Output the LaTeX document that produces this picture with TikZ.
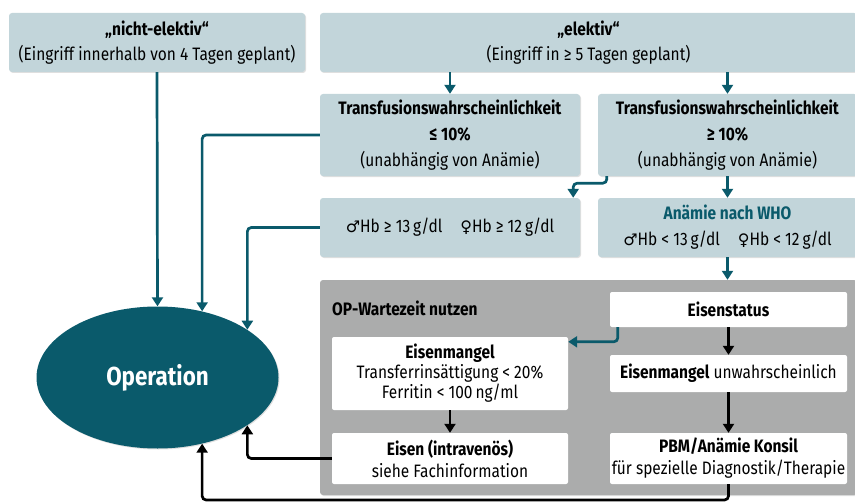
\documentclass[tikz,border=0pt]{standalone}
\usepackage{fontspec}
\setmainfont{Fira Sans}[FakeStretch=0.86]
\newfontfamily\symfont{DejaVu Sans}
\usetikzlibrary{arrows.meta, shapes.geometric, shadows, positioning, calc}
\definecolor{boxblue}{HTML}{C2D5DA}
\definecolor{petrol}{HTML}{0A5A6B}
\definecolor{waitgray}{HTML}{ABACAC}
\newcommand{\sexm}{{\symfont\fontsize{16}{20}\selectfont ♂}}
\newcommand{\sexf}{{\symfont\fontsize{16}{20}\selectfont ♀}}

\begin{document}
\begin{tikzpicture}[x=1pt, y=-1pt,
    font=\fontsize{18}{26}\selectfont,
    tbox/.style={fill=boxblue, rounded corners=3pt, align=center, inner sep=1pt,
      drop shadow={shadow xshift=1pt, shadow yshift=-1pt, opacity=0.25}},
    wbox/.style={fill=white, rounded corners=2pt, align=center, inner sep=1pt},
    tarr/.style={draw=petrol, line width=2.7pt, rounded corners=4pt, -{Triangle[width=11pt,length=9pt]}},
    barr/.style={draw=black, line width=2.7pt, rounded corners=4pt, -{Triangle[width=11pt,length=9pt]}}]
  \useasboundingbox (0,0) rectangle (855,503);
  % top row
  \node[tbox, minimum width=296pt, minimum height=59pt] (nicht) at (157,42.5) {
    \textbf{„nicht-elektiv“}\\[-1pt](Eingriff innerhalb von 4 Tagen geplant)};
  \node[tbox, minimum width=537pt, minimum height=59pt] (elektiv) at (588.5,42.5) {
    \textbf{„elektiv“}\\[-1pt](Eingriff in ≥ 5 Tagen geplant)};
  % transfusion
  \node[tbox, minimum width=260pt, minimum height=82pt] (tlow) at (450,135) {
    \textbf{Transfusionswahrscheinlichkeit}\\\textbf{≤ 10\%}\\(unabhängig von Anämie)};
  \node[tbox, minimum width=259pt, minimum height=82pt] (thigh) at (727.5,135) {
    \textbf{Transfusionswahrscheinlichkeit}\\\textbf{≥ 10\%}\\(unabhängig von Anämie)};
  % hb
  \node[tbox, minimum width=260pt, minimum height=59pt] (hbok) at (450,227.5) {
    \sexm Hb ≥ 13\,g/dl\quad\sexf Hb ≥ 12\,g/dl};
  \node[tbox, minimum width=259pt, minimum height=59pt] (anaemie) at (727.5,227.5) {
    \textcolor{petrol}{\textbf{Anämie nach WHO}}\\\sexm Hb < 13\,g/dl\quad\sexf Hb < 12\,g/dl};
  % waiting time
  \node[fill=waitgray, rounded corners=3pt, minimum width=537pt, minimum height=215pt,
    drop shadow={shadow xshift=1pt, shadow yshift=-1pt, opacity=0.25}] (wait) at (588.5,387.5) {};
  \node[anchor=west, inner sep=0pt] (wlabel) at (332,308) {\textbf{OP-Wartezeit nutzen}};
  \node[wbox, minimum width=237pt, minimum height=35pt] (estatus) at (728.5,309.5) {\textbf{Eisenstatus}};
  \node[wbox, minimum width=236pt, minimum height=73pt] (emangel) at (450,373.5) {
    \textbf{Eisenmangel}\\[-6pt]Transferrinsättigung < 20\%\\[-6pt]Ferritin < 100\,ng/ml};
  \node[wbox, minimum width=237pt, minimum height=37pt] (eunw) at (728.5,373.5) {
    \textbf{Eisenmangel} unwahrscheinlich};
  \node[wbox, minimum width=236pt, minimum height=51pt] (eisen) at (450,458.5) {
    \textbf{Eisen (intravenös)}\\[-4pt]siehe Fachinformation};
  \node[wbox, minimum width=237pt, minimum height=51pt] (pbm) at (728.5,458.5) {
    \textbf{PBM/Anämie Konsil}\\[-4pt]für spezielle Diagnostik/Therapie};
  % operation
  \node[ellipse, fill=petrol, minimum width=242pt, minimum height=142pt, text=white,
    font=\fontsize{26}{30}\selectfont\bfseries,
    drop shadow={shadow xshift=1pt, shadow yshift=-1pt, opacity=0.25}] (op) at (157.5,377.5) {Operation};
  \coordinate (low) at (0,500);
  % connectors
  \draw[tarr] (nicht.south) -- (op.north);
  \draw[tarr] (elektiv.south -| tlow) -- (tlow.north);
  \draw[tarr] (elektiv.south -| thigh) -- (thigh.north);
  \draw[tarr] (tlow.west) -| (op.56);
  \draw[tarr] (hbok.west) -| (op.28);
  \draw[tarr] ([xshift=9pt]thigh.south west) -- ++(0,7) -| ([xshift=-7pt]hbok.north east);
  \draw[tarr] (thigh.south) -- (anaemie.north);
  \draw[tarr] (anaemie.south) -- (anaemie.south |- wait.north);
  \draw[tarr] ([xshift=8pt]estatus.south west) |- ([yshift=-5pt]emangel.north east);
  \draw[barr] (estatus.south) -- (eunw.north);
  \draw[barr] (eunw.south) -- (pbm.north);
  \draw[barr] (emangel.south) -- (eisen.north);
  \draw[barr] (eisen.west) -| (op.-28);
  \draw[barr] (pbm.south) -- (pbm.south |- low) -| (op.-56);
\end{tikzpicture}
\end{document}
